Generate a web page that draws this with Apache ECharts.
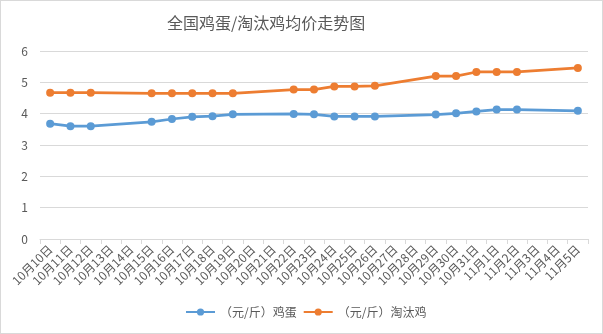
<!DOCTYPE html>
<html>
<head>
<meta charset="utf-8">
<script src="https://cdn.jsdelivr.net/npm/echarts@6/dist/echarts.min.js"></script>
<style>
html,body{margin:0;padding:0;background:#fff;}
#c{width:603px;height:334px;box-sizing:border-box;border:1px solid #d9d9d9;}
</style>
</head>
<body>
<div id="c"></div>
<script>
const categories = ["10月10日","10月11日","10月12日","10月13日","10月14日","10月15日","10月16日","10月17日","10月18日","10月19日","10月20日","10月21日","10月22日","10月23日","10月24日","10月25日","10月26日","10月27日","10月28日","10月29日","10月30日","10月31日","11月1日","11月2日","11月3日","11月4日","11月5日"];
const eggPrice = [3.68,3.60,3.60,null,null,3.74,3.83,3.90,3.92,3.98,null,null,3.99,3.98,3.91,3.91,3.91,null,null,3.97,4.01,4.07,4.13,4.13,null,null,4.09];
const henPrice = [4.67,4.67,4.67,null,null,4.65,4.65,4.65,4.65,4.65,null,null,4.77,4.77,4.87,4.87,4.89,null,null,5.20,5.20,5.33,5.33,5.33,null,null,5.46];
const seriesNames = ["（元/斤）鸡蛋","（元/斤）淘汰鸡"];
const titleText = "全国鸡蛋/淘汰鸡均价走势图";

const chart = echarts.init(document.getElementById('c'), null, {renderer:'canvas'});
const font = '"Noto Sans CJK SC", "Noto Sans", sans-serif';
chart.setOption({
  animation:false,
  textStyle:{fontFamily:font},
  title:{text:titleText,left:161,top:9,textStyle:{fontSize:16,fontWeight:'normal',color:'#595959',fontFamily:font}},
  grid:{left:39,right:14,top:50,bottom:94},
  legend:{bottom:10,left:179,itemWidth:29,itemHeight:9,itemGap:6,
    textStyle:{color:'#595959',fontSize:12,fontFamily:font},
    data:seriesNames},
  xAxis:{type:'category',data:categories,boundaryGap:true,
    axisLine:{lineStyle:{color:'#d9d9d9'}},
    axisTick:{show:true,length:5,lineStyle:{color:'#d9d9d9'}},
    axisLabel:{interval:0,rotate:45,fontSize:12,color:'#595959',margin:8,fontFamily:font}},
  yAxis:{type:'value',min:0,max:6,interval:1,
    axisLine:{show:false},axisTick:{show:false},
    splitLine:{lineStyle:{color:'#d9d9d9'}},
    axisLabel:{fontSize:12,color:'#595959',margin:12,fontFamily:font}},
  series:[
    {name:seriesNames[0],type:'line',data:eggPrice,connectNulls:true,symbol:'circle',symbolSize:8,
     itemStyle:{color:'#5B9BD5'},lineStyle:{width:2.75,color:'#5B9BD5'}},
    {name:seriesNames[1],type:'line',data:henPrice,connectNulls:true,symbol:'circle',symbolSize:8,
     itemStyle:{color:'#ED7D31'},lineStyle:{width:2.75,color:'#ED7D31'}}
  ]
});
</script>
</body>
</html>
